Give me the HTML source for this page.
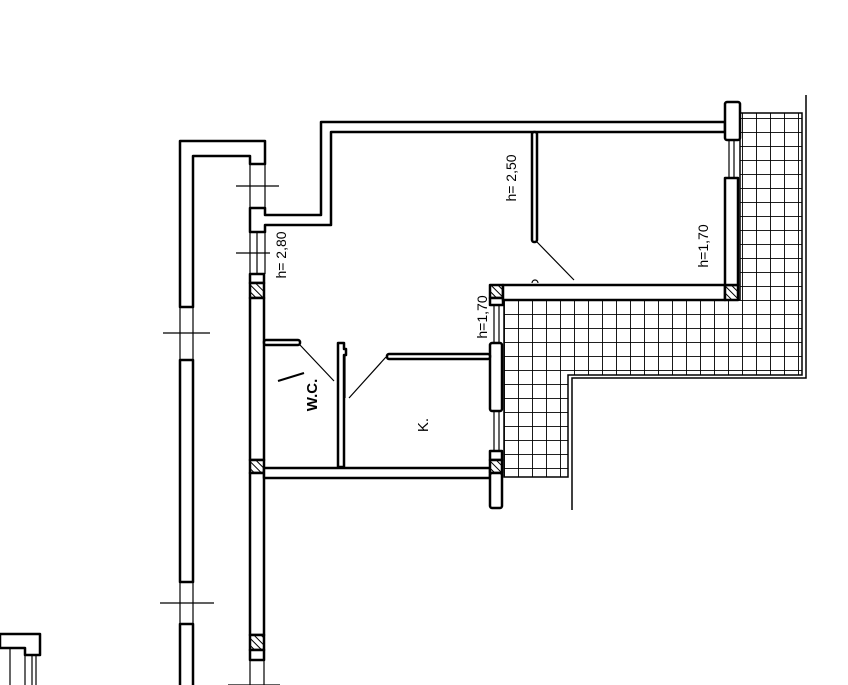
<!DOCTYPE html>
<html><head><meta charset="utf-8"><style>
html,body{margin:0;padding:0;background:#fff;}
svg{display:block;}
text{font-family:"Liberation Sans",sans-serif;fill:#000;}
</style></head><body>
<svg width="848" height="685" viewBox="0 0 848 685" xmlns="http://www.w3.org/2000/svg">
<defs>
<pattern id="grid" x="504" y="300" width="14" height="14" patternUnits="userSpaceOnUse">
<path d="M0 0V14M0 0H14" stroke="#000" stroke-width="1.8" fill="none"/>
</pattern>
<pattern id="hatch" width="5" height="5" patternUnits="userSpaceOnUse" patternTransform="rotate(-45)">
<rect width="5" height="5" fill="#fff"/><line x1="0" y1="0" x2="0" y2="5" stroke="#000" stroke-width="2"/>
</pattern>
</defs>
<g fill="none" stroke="#000">
<polygon points="740,113 802,113 802,375 568,375 568,477 504,477 504,300 740,300" fill="url(#grid)" stroke="#000" stroke-width="1.5"/>
<polyline points="806,95 806,378 572,378 572,510" stroke-width="1.5"/>
</g>
<g fill="#fff" stroke="#000" stroke-width="2.5" stroke-linejoin="round">
<polygon points="180,307 180,141 265,141 265,164 250,164 250,156 193,156 193,307"/>
<rect x="180" y="360" width="13" height="222"/>
<rect x="180" y="624" width="13" height="70"/>
<polygon points="250,232 250,208 265,208 265,215 321,215 321,122 725,122 725,132 331,132 331,225 265,225 265,232"/>
<rect x="250" y="274" width="14" height="9"/>
<rect x="250" y="283" width="14" height="15" fill="url(#hatch)"/>
<rect x="250" y="298" width="14" height="162"/>
<rect x="250" y="460" width="14" height="13" fill="url(#hatch)"/>
<rect x="250" y="473" width="14" height="162"/>
<rect x="250" y="635" width="14" height="15" fill="url(#hatch)"/>
<rect x="250" y="650" width="14" height="10"/>
<rect x="264" y="468" width="226" height="10"/>
<rect x="490" y="285" width="13" height="13" fill="url(#hatch)"/>
<rect x="490" y="298" width="13" height="7"/>
<rect x="490" y="343" width="12" height="68" rx="2"/>
<rect x="490" y="451" width="12" height="9"/>
<rect x="490" y="460" width="12" height="13" fill="url(#hatch)"/>
<rect x="490" y="473" width="12" height="35" rx="2"/>
<rect x="503" y="285" width="222" height="15"/>
<rect x="725" y="285" width="13" height="15" fill="url(#hatch)"/>
<rect x="725" y="178" width="13" height="107"/>
<rect x="725" y="102" width="15" height="38" rx="2"/>
<rect x="532" y="132" width="5" height="110" rx="2"/>
<rect x="264" y="340" width="36" height="5" rx="2"/>
<rect x="387" y="354" width="103" height="5" rx="2"/>
<path d="M338 467V343h6v6h2v6h-2v112z"/>
<polygon points="0,634 40,634 40,655 25,655 25,648 0,648"/>
</g>
<g fill="none" stroke="#000" stroke-width="1.2">
<path d="M250 164V208M265 164V208M250 232V274M265 232V274M257 232V274"/>
<path d="M180 307V360M193 307V360M180 582V624M193 582V624"/>
<path d="M250 660V685M264 660V685"/>
<path d="M494 305V343M499 305V343M494 411V451M499 411V451"/>
<path d="M729 140V178M734 140V178"/>
<path d="M345 355V398"/>
<path d="M10 648V685M25 655V685M32 655V685M36 655V685"/>
<path d="M236 186H279M236 253H270M163 333H210M160 603H214M228 685H280"/>
<path d="M537 242L574 280M300 345L334 381M349 398L386 357"/>
<path d="M532 283a3 3 0 0 1 6 0"/>
</g>
<g font-size="14">
<text transform="translate(286,255) rotate(-90)" text-anchor="middle">h= 2,80</text>
<text transform="translate(516,178) rotate(-90)" text-anchor="middle">h= 2,50</text>
<text transform="translate(487,317) rotate(-90)" text-anchor="middle">h=1,70</text>
<text transform="translate(708,246) rotate(-90)" text-anchor="middle">h=1,70</text>
<text transform="translate(317,395) rotate(-90)" text-anchor="middle" font-family="Liberation Serif,serif" font-weight="bold" font-size="15">W.C.</text>
<text transform="translate(428,425) rotate(-90)" text-anchor="middle" font-family="Liberation Serif,serif" font-size="15">K.</text>
</g>
<path d="M278 381L304 373" stroke="#000" stroke-width="2"/>
</svg>
</body></html>
